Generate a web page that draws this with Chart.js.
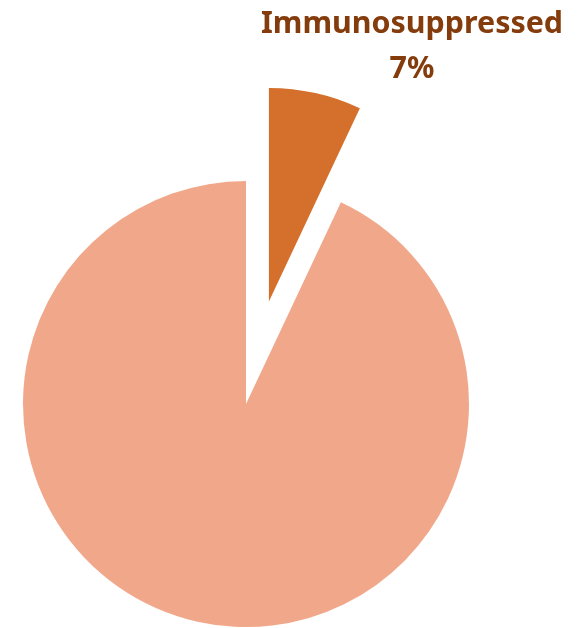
<!DOCTYPE html>
<html>
<head>
<meta charset="utf-8">
<script src="https://cdn.jsdelivr.net/npm/chart.js@4"></script>
<style>
  html, body { margin: 0; padding: 0; background: #fff; }
  canvas { display: block; }
</style>
</head>
<body>
<canvas id="pieChart" width="581" height="628"></canvas>
<script>
const groups = ['Immunosuppressed', 'Not immunosuppressed'];
const shares = [7, 93];
const sliceColors = ['#D4702C', '#F1A88A'];
const explodeIndex = 0;

const PIE_RADIUS = 223;
const EXPLODE_DIST = 105;     // how far the highlighted slice is pulled out
const EXPLODE_SCALE = 0.958;  // pulled-out slice is drawn a bit smaller
const LABEL_COLOR = '#843C0C';

// move the highlighted slice out along its bisector
const explodePlugin = {
    id: 'explodeSlice',
    beforeDatasetsDraw(chart) {
        const arcs = chart.getDatasetMeta(0).data;
        const ref = arcs.find((a, i) => i !== explodeIndex);
        const arc = arcs[explodeIndex];
        const mid = (arc.startAngle + arc.endAngle) / 2;
        arc.x = ref.x + Math.cos(mid) * EXPLODE_DIST;
        arc.y = ref.y + Math.sin(mid) * EXPLODE_DIST;
        arc.outerRadius = ref.outerRadius * EXPLODE_SCALE;
    }
};

// two-line label above the pulled-out slice
const labelPlugin = {
    id: 'sliceLabel',
    afterDatasetsDraw(chart) {
        const c = chart.ctx;
        c.save();
        c.fillStyle = LABEL_COLOR;
        c.font = 'bold 30.4px "Noto Sans"';
        c.textAlign = 'center';
        c.textBaseline = 'alphabetic';
        c.fillText(groups[explodeIndex], 412, 33);
        c.fillText(shares[explodeIndex] + '%', 412, 78);
        c.restore();
    }
};

new Chart(document.getElementById('pieChart'), {
    type: 'pie',
    data: {
        labels: groups,
        datasets: [{
            data: shares,
            backgroundColor: sliceColors,
            borderWidth: 0,
            clip: false
        }]
    },
    options: {
        responsive: false,
        animation: false,
        events: [],
        radius: PIE_RADIUS,
        layout: { padding: { left: 0, right: 89, top: 180, bottom: 0 } },
        plugins: {
            legend: { display: false },
            tooltip: { enabled: false }
        }
    },
    plugins: [explodePlugin, labelPlugin]
});
</script>
</body>
</html>
